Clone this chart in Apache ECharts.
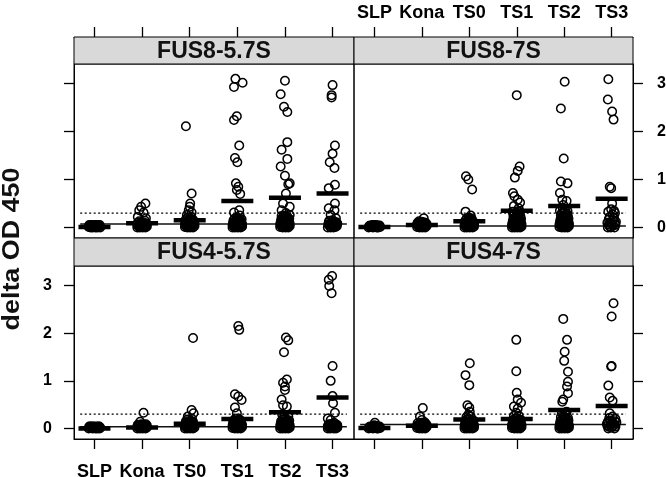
<!DOCTYPE html>
<html>
<head>
<meta charset="utf-8">
<script src="https://cdn.jsdelivr.net/npm/echarts@6/dist/echarts.min.js"></script>
<style>html,body{margin:0;padding:0;background:#fff}#chart{width:666px;height:477px}</style>
</head>
<body>
<div id="chart"></div>
<script>
// ---------- data ----------
const categories = ['SLP', 'Kona', 'TS0', 'TS1', 'TS2', 'TS3'];
const categoryTicks = [1, 2, 3, 4, 5, 6];
const yTicks = [0, 1, 2, 3];
const panelTitles = ['FUS8-5.7S', 'FUS8-7S', 'FUS4-5.7S', 'FUS4-7S'];
const yAxisTitle = 'delta OD 450';

const cutoff = 0.3;
const baselines = [0.07, 0.03, 0.035, 0.085];

const means_FUS8_57S = [0.01, 0.09, 0.15, 0.55, 0.62, 0.71];
const means_FUS8_7S  = [0.01, 0.05, 0.13, 0.35, 0.45, 0.60];
const means_FUS4_57S = [0.00, 0.02, 0.10, 0.20, 0.34, 0.65];
const means_FUS4_7S  = [0.01, 0.06, 0.19, 0.20, 0.39, 0.47];

// points: [jitter, value]
const p857_SLP = [[-0.12,0.01],[-0.1,0.03],[-0.08,0.0],[-0.07,0.04],[-0.05,0.02],[-0.04,0.0],[-0.02,0.03],[-0.01,0.05],[0,0.01],[0.01,0.03],[0.02,0.0],[0.04,0.04],[0.05,0.02],[0.06,0.0],[0.07,0.03],[0.08,0.05],[0.09,0.01],[0.1,0.03],[0.12,0.0],[-0.11,0.05],[-0.06,0.05],[0.03,0.05],[0.11,0.05],[-0.03,0.01]];
const p857_Kona = [[0.07,0.5],[-0.02,0.43],[-0.06,0.36],[0.03,0.31],[-0.09,0.22],[0.08,0.19],[-0.1,0.0],[-0.1,0.05],[-0.09,0.1],[-0.07,0.02],[-0.07,0.07],[-0.06,0.13],[-0.05,0.0],[-0.04,0.04],[-0.04,0.09],[-0.02,0.01],[-0.02,0.06],[-0.01,0.11],[0,0.03],[0.01,0.08],[0.01,0.0],[0.03,0.05],[0.03,0.1],[0.04,0.01],[0.05,0.07],[0.06,0.03],[0.06,0.14],[0.07,0.0],[0.08,0.05],[0.08,0.09],[0.1,0.02],[0.1,0.07]];
const p857_TS0 = [[-0.08,2.11],[0.04,0.71],[0.01,0.5],[0.0,0.43],[-0.02,0.36],[0.04,0.31],[-0.06,0.26],[-0.1,0.01],[-0.1,0.06],[-0.09,0.11],[-0.07,0.03],[-0.07,0.08],[-0.06,0.14],[-0.05,0.0],[-0.04,0.05],[-0.04,0.1],[-0.02,0.02],[-0.02,0.07],[-0.01,0.12],[0,0.04],[0.01,0.09],[0.01,0.0],[0.03,0.06],[0.03,0.11],[0.04,0.02],[0.05,0.08],[0.06,0.04],[0.06,0.13],[0.07,0.0],[0.08,0.06],[0.08,0.1],[0.1,0.03],[0.1,0.08],[-0.08,0.17],[-0.03,0.16],[0.02,0.18],[0.07,0.16],[-0.04,0.21],[0.03,0.22]];
const p857_TS1 = [[-0.04,3.1],[0.11,3.02],[-0.07,2.93],[-0.01,2.32],[-0.07,2.24],[0.04,1.71],[-0.05,1.45],[0,1.36],[-0.03,0.92],[0.02,0.85],[-0.01,0.78],[0.06,0.7],[0.04,0.36],[-0.07,0.31],[0.05,0.25],[-0.1,0.0],[-0.1,0.05],[-0.09,0.1],[-0.07,0.02],[-0.07,0.07],[-0.06,0.12],[-0.05,0.0],[-0.04,0.04],[-0.04,0.09],[-0.02,0.01],[-0.02,0.06],[-0.01,0.11],[0,0.03],[0.01,0.08],[0.01,0.0],[0.03,0.05],[0.03,0.1],[0.04,0.01],[0.05,0.07],[0.06,0.03],[0.06,0.12],[0.07,0.0],[0.08,0.05],[0.08,0.09],[0.1,0.02],[0.1,0.07],[-0.08,0.15],[-0.03,0.14],[0.02,0.16],[0.07,0.14],[-0.05,0.19],[0.0,0.2],[0.05,0.18],[0.09,0.17]];
const p857_TS2 = [[0,3.06],[-0.09,2.78],[-0.02,2.52],[0.05,2.41],[0.05,1.78],[-0.07,1.62],[0.05,1.43],[-0.09,1.27],[0,1.08],[0.1,0.92],[0.07,0.9],[0.02,0.71],[-0.04,0.5],[0.1,0.43],[-0.07,0.36],[0.1,0.26],[0.02,0.3],[-0.1,0.01],[-0.1,0.06],[-0.09,0.11],[-0.07,0.03],[-0.07,0.08],[-0.06,0.13],[-0.05,0.0],[-0.04,0.05],[-0.04,0.1],[-0.02,0.02],[-0.02,0.07],[-0.01,0.12],[0,0.04],[0.01,0.09],[0.01,0.0],[0.03,0.06],[0.03,0.11],[0.04,0.02],[0.05,0.08],[0.06,0.04],[0.06,0.13],[0.07,0.0],[0.08,0.06],[0.08,0.1],[0.1,0.03],[0.1,0.08],[-0.08,0.16],[-0.03,0.15],[0.02,0.17],[0.07,0.15],[-0.05,0.2],[0.0,0.21],[0.05,0.19],[0.09,0.18],[-0.07,0.24],[-0.02,0.25],[0.04,0.23]];
const p857_TS3 = [[0,2.97],[-0.02,2.76],[-0.02,2.71],[0.05,1.71],[0,1.54],[-0.06,1.36],[0.04,1.24],[0.05,0.89],[-0.08,0.82],[0.05,0.5],[-0.08,0.4],[0.04,0.36],[-0.04,0.26],[0.07,0.19],[-0.1,0.0],[-0.09,0.06],[-0.08,0.11],[-0.06,0.03],[-0.05,0.08],[-0.04,0.0],[-0.03,0.05],[-0.02,0.1],[0,0.02],[0.01,0.07],[0.02,0.0],[0.03,0.12],[0.04,0.04],[0.05,0.09],[0.06,0.01],[0.07,0.06],[0.08,0.11],[0.09,0.03],[0.1,0.08],[-0.07,0.14],[0.0,0.15]];

const p87_SLP = [[-0.12,0.0],[-0.1,0.02],[-0.09,0.04],[-0.07,0.01],[-0.06,0.03],[-0.04,0.05],[-0.03,0.0],[-0.02,0.02],[0,0.04],[0.01,0.01],[0.02,0.03],[0.03,0.05],[0.05,0.0],[0.06,0.02],[0.07,0.04],[0.09,0.01],[0.1,0.03],[0.12,0.01],[-0.11,0.03],[-0.05,0.01],[0.04,0.02],[0.11,0.04],[-0.01,0.05],[0.08,0.0]];
const p87_Kona = [[0.04,0.19],[-0.06,0.13],[-0.1,0.01],[-0.1,0.06],[-0.09,0.1],[-0.07,0.03],[-0.07,0.08],[-0.05,0.0],[-0.04,0.05],[-0.04,0.1],[-0.02,0.02],[-0.02,0.07],[-0.01,0.12],[0,0.04],[0.01,0.09],[0.01,0.0],[0.03,0.06],[0.03,0.11],[0.04,0.02],[0.05,0.08],[0.06,0.04],[0.07,0.0],[0.08,0.06],[0.08,0.1],[0.1,0.03],[0.1,0.07]];
const p87_TS0 = [[-0.07,1.07],[-0.02,1.0],[0.06,0.79],[-0.08,0.33],[0.03,0.25],[-0.1,0.0],[-0.1,0.05],[-0.09,0.1],[-0.07,0.02],[-0.07,0.07],[-0.06,0.12],[-0.05,0.0],[-0.04,0.04],[-0.04,0.09],[-0.02,0.01],[-0.02,0.06],[-0.01,0.11],[0,0.03],[0.01,0.08],[0.01,0.0],[0.03,0.05],[0.03,0.1],[0.04,0.01],[0.05,0.07],[0.06,0.03],[0.06,0.12],[0.07,0.0],[0.08,0.05],[0.08,0.09],[0.1,0.02],[0.1,0.07],[-0.08,0.15],[-0.03,0.14],[0.02,0.16],[0.07,0.14],[-0.05,0.19],[0.0,0.2],[0.05,0.18]];
const p87_TS1 = [[0,2.76],[0.06,1.27],[0.02,1.18],[-0.04,1.04],[-0.08,0.72],[-0.05,0.65],[0.02,0.58],[0.07,0.52],[-0.06,0.45],[0.04,0.4],[-0.1,0.0],[-0.1,0.05],[-0.09,0.1],[-0.07,0.02],[-0.07,0.07],[-0.06,0.12],[-0.05,0.0],[-0.04,0.04],[-0.04,0.09],[-0.02,0.01],[-0.02,0.06],[-0.01,0.11],[0,0.03],[0.01,0.08],[0.01,0.0],[0.03,0.05],[0.03,0.1],[0.04,0.01],[0.05,0.07],[0.06,0.03],[0.06,0.12],[0.07,0.0],[0.08,0.05],[0.08,0.09],[0.1,0.02],[0.1,0.07],[-0.08,0.15],[-0.03,0.14],[0.02,0.16],[0.07,0.14],[-0.05,0.19],[0.0,0.2],[0.05,0.18],[0.09,0.17],[-0.07,0.24],[-0.02,0.23],[0.03,0.25],[0.08,0.22],[-0.05,0.29],[0.0,0.3],[0.05,0.28],[-0.09,0.33],[0.02,0.34],[0.07,0.32]];
const p87_TS2 = [[0.01,3.04],[-0.07,2.48],[-0.01,1.44],[-0.07,0.96],[0.07,0.92],[-0.09,0.72],[-0.04,0.58],[0.05,0.55],[-0.02,0.47],[-0.1,0.01],[-0.1,0.06],[-0.09,0.11],[-0.07,0.03],[-0.07,0.08],[-0.06,0.13],[-0.05,0.0],[-0.04,0.05],[-0.04,0.1],[-0.02,0.02],[-0.02,0.07],[-0.01,0.12],[0,0.04],[0.01,0.09],[0.01,0.0],[0.03,0.06],[0.03,0.11],[0.04,0.02],[0.05,0.08],[0.06,0.04],[0.06,0.13],[0.07,0.0],[0.08,0.06],[0.08,0.1],[0.1,0.03],[0.1,0.08],[-0.08,0.16],[-0.03,0.15],[0.02,0.17],[0.07,0.15],[-0.05,0.2],[0.0,0.21],[0.05,0.19],[0.09,0.18],[-0.07,0.25],[-0.02,0.24],[0.03,0.26],[0.08,0.23],[-0.05,0.3],[0.0,0.31],[0.05,0.29],[-0.09,0.35],[0.02,0.36],[0.07,0.34],[-0.03,0.4]];
const p87_TS3 = [[-0.07,3.09],[-0.08,2.67],[0.01,2.42],[0.04,2.25],[-0.04,0.85],[-0.01,0.82],[0.01,0.5],[-0.07,0.33],[0.07,0.3],[-0.04,0.22],[0.03,0.15],[-0.09,0.1],[0.08,0.05],[-0.02,0.0],[0.05,0.2],[-0.05,0.03],[0.0,0.08],[0.09,0.12],[-0.06,0.17],[0.02,0.27],[0.06,0.0],[-0.08,0.0],[0.03,0.04],[-0.03,0.11],[0.07,0.09],[-0.01,0.38],[0.05,0.35],[-0.06,0.06]];

const p457_SLP = [[-0.12,0.0],[-0.1,0.02],[-0.09,0.04],[-0.07,0.01],[-0.06,0.03],[-0.04,0.0],[-0.03,0.02],[-0.02,0.04],[0,0.01],[0.01,0.03],[0.02,0.0],[0.03,0.04],[0.05,0.02],[0.06,0.0],[0.07,0.03],[0.09,0.01],[0.1,0.04],[0.12,0.02],[-0.11,0.04],[-0.05,0.04],[0.04,0.01],[0.11,0.0],[-0.01,0.03],[0.08,0.04]];
const p457_Kona = [[0.03,0.33],[-0.04,0.14],[-0.1,0.0],[-0.1,0.04],[-0.09,0.08],[-0.07,0.02],[-0.07,0.06],[-0.05,0.0],[-0.04,0.04],[-0.04,0.08],[-0.02,0.01],[-0.02,0.05],[-0.01,0.09],[0,0.03],[0.01,0.07],[0.01,0.0],[0.03,0.04],[0.03,0.08],[0.04,0.01],[0.05,0.06],[0.06,0.02],[0.07,0.0],[0.08,0.05],[0.08,0.09],[0.1,0.02],[0.1,0.06]];
const p457_TS0 = [[0.07,1.9],[0.04,0.39],[0.08,0.32],[-0.04,0.25],[-0.1,0.0],[-0.1,0.05],[-0.09,0.1],[-0.07,0.02],[-0.07,0.07],[-0.06,0.12],[-0.05,0.0],[-0.04,0.04],[-0.04,0.09],[-0.02,0.01],[-0.02,0.06],[-0.01,0.11],[0,0.03],[0.01,0.08],[0.01,0.0],[0.03,0.05],[0.03,0.1],[0.04,0.01],[0.05,0.07],[0.06,0.03],[0.06,0.12],[0.07,0.0],[0.08,0.05],[0.08,0.09],[0.1,0.02],[0.1,0.07],[-0.08,0.15],[-0.03,0.14],[0.02,0.16],[0.07,0.14],[-0.05,0.19],[0.05,0.2]];
const p457_TS1 = [[0.02,2.15],[0.04,2.07],[-0.05,0.72],[0.02,0.67],[0.09,0.6],[-0.05,0.44],[-0.01,0.32],[-0.1,0.01],[-0.1,0.06],[-0.09,0.11],[-0.07,0.03],[-0.07,0.08],[-0.06,0.13],[-0.05,0.0],[-0.04,0.05],[-0.04,0.1],[-0.02,0.02],[-0.02,0.07],[-0.01,0.12],[0,0.04],[0.01,0.09],[0.01,0.0],[0.03,0.06],[0.03,0.11],[0.04,0.02],[0.05,0.08],[0.06,0.04],[0.06,0.13],[0.07,0.0],[0.08,0.06],[0.08,0.1],[0.1,0.03],[0.1,0.08],[-0.08,0.16],[-0.03,0.15],[0.02,0.17],[0.07,0.15],[-0.05,0.2],[0.0,0.21],[0.05,0.19]];
const p457_TS2 = [[0.02,1.91],[0.07,1.85],[-0.02,1.6],[0.04,1.03],[-0.04,0.96],[0,0.88],[0,0.81],[-0.07,0.61],[-0.04,0.49],[0.04,0.46],[0.07,0.25],[-0.06,0.3],[-0.1,0.0],[-0.1,0.05],[-0.09,0.1],[-0.07,0.02],[-0.07,0.07],[-0.06,0.12],[-0.05,0.0],[-0.04,0.04],[-0.04,0.09],[-0.02,0.01],[-0.02,0.06],[-0.01,0.11],[0,0.03],[0.01,0.08],[0.01,0.0],[0.03,0.05],[0.03,0.1],[0.04,0.01],[0.05,0.07],[0.06,0.03],[0.06,0.12],[0.07,0.0],[0.08,0.05],[0.08,0.09],[0.1,0.02],[0.1,0.07],[-0.08,0.15],[-0.03,0.14],[0.02,0.16],[0.07,0.14],[-0.05,0.19],[0.0,0.2],[0.05,0.18],[0.09,0.17],[-0.02,0.24]];
const p457_TS3 = [[-0.01,3.2],[-0.08,3.12],[-0.07,2.99],[-0.02,2.84],[0,1.31],[-0.04,1.0],[0,0.68],[0.01,0.53],[0.05,0.33],[-0.1,0.21],[-0.04,0.18],[-0.1,0.0],[-0.1,0.05],[-0.08,0.09],[-0.07,0.02],[-0.06,0.06],[-0.05,0.0],[-0.04,0.04],[-0.03,0.09],[-0.02,0.01],[-0.01,0.06],[0,0.1],[0.01,0.03],[0.02,0.0],[0.03,0.07],[0.04,0.02],[0.05,0.05],[0.06,0.09],[0.07,0.0],[0.08,0.04],[0.09,0.08],[0.1,0.02],[0.1,0.06],[0.03,0.12]];

const p47_SLP = [[0.01,0.12],[-0.12,0.0],[-0.1,0.02],[-0.09,0.04],[-0.07,0.01],[-0.06,0.03],[-0.04,0.05],[-0.03,0.0],[-0.02,0.02],[0,0.04],[0.01,0.01],[0.02,0.03],[0.03,0.06],[0.05,0.0],[0.06,0.02],[0.07,0.04],[0.09,0.01],[0.1,0.03],[0.12,0.01],[-0.11,0.03],[-0.05,0.01],[0.04,0.02],[0.11,0.04],[-0.01,0.07],[0.08,0.0]];
const p47_Kona = [[0.02,0.43],[-0.04,0.25],[0,0.18],[-0.1,0.01],[-0.1,0.06],[-0.09,0.11],[-0.07,0.03],[-0.07,0.08],[-0.05,0.0],[-0.04,0.05],[-0.04,0.1],[-0.02,0.02],[-0.02,0.07],[-0.01,0.12],[0,0.04],[0.01,0.09],[0.01,0.0],[0.03,0.06],[0.03,0.11],[0.04,0.02],[0.05,0.08],[0.06,0.04],[0.06,0.13],[0.07,0.0],[0.08,0.06],[0.08,0.1],[0.1,0.03],[0.1,0.08]];
const p47_TS0 = [[0.01,1.37],[-0.08,1.12],[0,0.91],[-0.04,0.49],[0,0.44],[0.01,0.35],[-0.1,0.0],[-0.1,0.05],[-0.09,0.1],[-0.07,0.02],[-0.07,0.07],[-0.06,0.12],[-0.05,0.0],[-0.04,0.04],[-0.04,0.09],[-0.02,0.01],[-0.02,0.06],[-0.01,0.11],[0,0.03],[0.01,0.08],[0.01,0.0],[0.03,0.05],[0.03,0.1],[0.04,0.01],[0.05,0.07],[0.06,0.03],[0.06,0.12],[0.07,0.0],[0.08,0.05],[0.08,0.09],[0.1,0.02],[0.1,0.07],[-0.08,0.15],[-0.03,0.14],[0.02,0.16],[0.07,0.14],[-0.05,0.19],[0.0,0.2],[0.05,0.18],[0.09,0.17],[-0.06,0.24],[0.03,0.25],[-0.02,0.29]];
const p47_TS1 = [[-0.01,1.86],[-0.01,1.2],[0,0.75],[0.02,0.61],[0.09,0.54],[-0.06,0.46],[0.02,0.42],[-0.01,0.33],[-0.1,0.01],[-0.1,0.06],[-0.09,0.11],[-0.07,0.03],[-0.07,0.08],[-0.06,0.13],[-0.05,0.0],[-0.04,0.05],[-0.04,0.1],[-0.02,0.02],[-0.02,0.07],[-0.01,0.12],[0,0.04],[0.01,0.09],[0.01,0.0],[0.03,0.06],[0.03,0.11],[0.04,0.02],[0.05,0.08],[0.06,0.04],[0.06,0.13],[0.07,0.0],[0.08,0.06],[0.08,0.1],[0.1,0.03],[0.1,0.08],[-0.08,0.16],[-0.03,0.15],[0.02,0.17],[0.07,0.15],[-0.05,0.2],[0.0,0.21],[0.05,0.19],[0.09,0.18],[-0.06,0.26],[0.04,0.27]];
const p47_TS2 = [[-0.02,2.3],[0.06,1.86],[0.01,1.61],[0,1.42],[0.08,1.19],[0.08,0.98],[0.06,0.88],[0.08,0.74],[-0.02,0.61],[-0.04,0.56],[0,0.25],[-0.1,0.0],[-0.1,0.05],[-0.09,0.1],[-0.07,0.02],[-0.07,0.07],[-0.06,0.12],[-0.05,0.0],[-0.04,0.04],[-0.04,0.09],[-0.02,0.01],[-0.02,0.06],[-0.01,0.11],[0,0.03],[0.01,0.08],[0.01,0.0],[0.03,0.05],[0.03,0.1],[0.04,0.01],[0.05,0.07],[0.06,0.03],[0.06,0.12],[0.07,0.0],[0.08,0.05],[0.08,0.09],[0.1,0.02],[0.1,0.07],[-0.08,0.15],[-0.03,0.14],[0.02,0.16],[0.07,0.14],[-0.05,0.19],[0.0,0.2],[0.05,0.18],[0.09,0.17],[-0.07,0.24],[-0.02,0.23],[0.03,0.29],[0.08,0.22],[-0.05,0.32],[0.05,0.35]];
const p47_TS3 = [[0.04,2.63],[0,2.35],[0,1.31],[-0.01,1.3],[-0.07,0.9],[-0.04,0.65],[0.02,0.58],[-0.04,0.32],[0.02,0.25],[-0.08,0.14],[0.02,0.1],[-0.05,0.03],[0.06,0.0],[0.08,0.2],[-0.02,0.17],[0.05,0.07],[-0.09,0.06],[0.1,0.13],[-0.07,0.0],[0.0,0.02],[0.08,0.04],[-0.03,0.08],[0.04,0.11],[-0.1,0.1],[0.07,0.15],[-0.05,0.22],[0.01,0.05]];

// ---------- assembly ----------
const panelPoints = [
  [p857_SLP, p857_Kona, p857_TS0, p857_TS1, p857_TS2, p857_TS3],
  [p87_SLP, p87_Kona, p87_TS0, p87_TS1, p87_TS2, p87_TS3],
  [p457_SLP, p457_Kona, p457_TS0, p457_TS1, p457_TS2, p457_TS3],
  [p47_SLP, p47_Kona, p47_TS0, p47_TS1, p47_TS2, p47_TS3]
];
const panelMeans = [means_FUS8_57S, means_FUS8_7S, means_FUS4_57S, means_FUS4_7S];

const FONT = '"Liberation Sans", Arial, Helvetica, sans-serif';
const XMIN = 0.57, XMAX = 6.45, YMIN = -0.22, YMAX = 3.41;
const LINE_FROM = 0.7, LINE_TO = 6.3;

const gridBoxes = [
  {left: 74, top: 64, width: 280, height: 174},
  {left: 354, top: 64, width: 279, height: 174},
  {left: 74, top: 266, width: 280, height: 173},
  {left: 354, top: 266, width: 279, height: 173}
];
const STRIP_H = 27;
const stripBoxes = [
  {x: 74, y: 37, w: 280, h: 27},
  {x: 354, y: 37, w: 279, h: 27},
  {x: 74, y: 238, w: 280, h: 28},
  {x: 354, y: 238, w: 279, h: 28}
];

const grids = gridBoxes.map(g => Object.assign({show: true, borderColor: '#000', borderWidth: 1, backgroundColor: 'transparent', containLabel: false, outerBoundsMode: 'none'}, g));

const xAxes = [], yAxes = [], series = [];
for (let i = 0; i < 4; i++) {
  const isTop = i < 2, isRight = i % 2 === 1;
  const showX = (i === 1 || i === 2);
  const showY = (i === 1 || i === 2);
  xAxes.push({
    type: 'value', gridIndex: i, min: XMIN, max: XMAX,
    position: isTop ? 'top' : 'bottom',
    offset: isTop ? STRIP_H : 0,
    splitLine: {show: false},
    axisLine: {show: true, onZero: false, lineStyle: {color: '#000', width: 1}},
    axisTick: {show: true, inside: false, customValues: categoryTicks, length: 10, lineStyle: {color: '#000', width: 1.3}},
    axisLabel: {show: showX, customValues: categoryTicks, margin: isTop ? 15 : 24,
      formatter: v => categories[Math.round(v) - 1] || '',
      color: '#000', fontWeight: 'bold', fontSize: 18, fontFamily: FONT}
  });
  yAxes.push({
    type: 'value', gridIndex: i, min: YMIN, max: YMAX,
    position: isRight ? 'right' : 'left',
    splitLine: {show: false},
    axisLine: {show: true, onZero: false, lineStyle: {color: '#000', width: 1}},
    axisTick: {show: true, inside: false, customValues: yTicks, length: 10, lineStyle: {color: '#000', width: 1.3}},
    axisLabel: {show: showY, customValues: yTicks, margin: isRight ? 24 : 22,
      color: '#000', fontWeight: 'bold', fontSize: 16, fontFamily: FONT}
  });

  series.push({
    type: 'line', xAxisIndex: i, yAxisIndex: i, silent: true, symbol: 'none', z: 1,
    data: [[LINE_FROM, baselines[i]], [LINE_TO, baselines[i]]],
    lineStyle: {color: '#111', width: 1.5}
  });
  series.push({
    type: 'line', xAxisIndex: i, yAxisIndex: i, silent: true, symbol: 'none', z: 1,
    data: [[LINE_FROM, cutoff], [LINE_TO, cutoff]],
    lineStyle: {color: '#000', width: 1.3, type: [2, 2.5]}
  });
  const pts = [];
  panelPoints[i].forEach((arr, c) => arr.forEach(p => pts.push([c + 1 + p[0], p[1]])));
  series.push({
    type: 'scatter', xAxisIndex: i, yAxisIndex: i, silent: true, z: 2,
    symbol: 'circle', symbolSize: 8.5,
    itemStyle: {color: 'rgba(0,0,0,0)', borderColor: '#000', borderWidth: 1.5, opacity: 1},
    data: pts
  });
  series.push({
    type: 'scatter', xAxisIndex: i, yAxisIndex: i, silent: true, z: 3,
    symbol: 'rect', symbolSize: [32, 4.5],
    itemStyle: {color: '#000', opacity: 1},
    data: panelMeans[i].map((m, c) => [c + 1, m])
  });
}

const graphics = [];
stripBoxes.forEach((s, i) => {
  graphics.push({type: 'rect', shape: {x: s.x, y: s.y, width: s.w, height: s.h},
    style: {fill: '#d9d9d9', stroke: '#000', lineWidth: 1}, z: 10});
  graphics.push({type: 'text', x: s.x + s.w / 2, y: s.y + s.h / 2 + 1, z: 11,
    style: {text: panelTitles[i], fill: '#111', font: 'bold 23px ' + FONT, textAlign: 'center', textVerticalAlign: 'middle'}});
});
graphics.push({type: 'text', x: 12, y: 249, rotation: Math.PI / 2, scaleX: 1.12, z: 11,
  style: {text: yAxisTitle, fill: '#111', font: 'bold 24px ' + FONT, textAlign: 'center', textVerticalAlign: 'middle'}});

const chart = echarts.init(document.getElementById('chart'), null, {renderer: 'canvas'});
chart.setOption({
  animation: false,
  backgroundColor: '#fff',
  grid: grids,
  xAxis: xAxes,
  yAxis: yAxes,
  series: series,
  graphic: graphics
});
</script>
</body>
</html>
